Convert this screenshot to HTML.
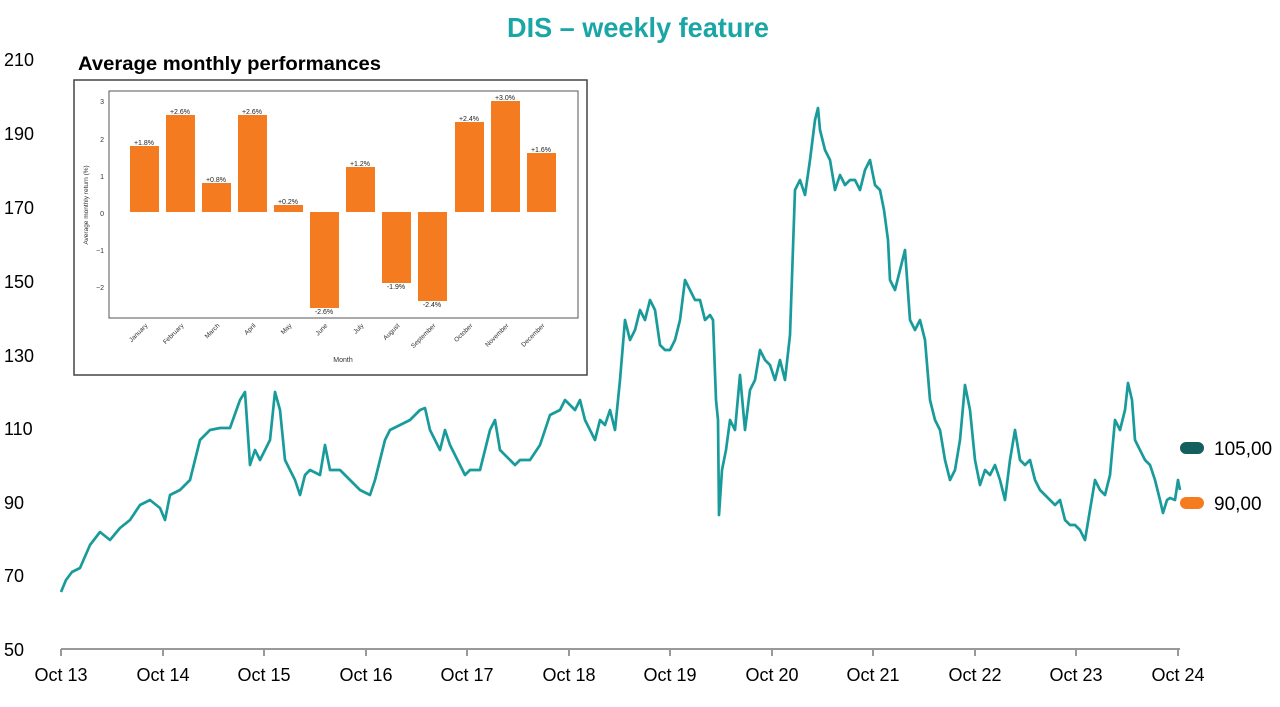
<!DOCTYPE html>
<html><head><meta charset="utf-8"><style>
body{margin:0;background:#fff;}
svg{display:block;font-family:"Liberation Sans",Arial,sans-serif;}
</style></head><body>
<svg width="1280" height="707" viewBox="0 0 1280 707">
<text x="638" y="37" text-anchor="middle" font-size="28" font-weight="bold" fill="#1aa6a6" textLength="262" lengthAdjust="spacingAndGlyphs">DIS – weekly feature</text>
<g font-size="18" fill="#000">
<text x="4" y="66">210</text><text x="4" y="140">190</text><text x="4" y="214">170</text><text x="4" y="288">150</text><text x="4" y="362">130</text><text x="4" y="435">110</text><text x="4" y="509">90</text><text x="4" y="582">70</text><text x="4" y="656">50</text>
</g>
<line x1="61" y1="649" x2="1180" y2="649" stroke="#999" stroke-width="2"/>
<g stroke="#999" stroke-width="2">
<line x1="61" y1="649" x2="61" y2="656"/><line x1="163" y1="649" x2="163" y2="656"/><line x1="264" y1="649" x2="264" y2="656"/><line x1="366" y1="649" x2="366" y2="656"/><line x1="467" y1="649" x2="467" y2="656"/><line x1="569" y1="649" x2="569" y2="656"/><line x1="670" y1="649" x2="670" y2="656"/><line x1="772" y1="649" x2="772" y2="656"/><line x1="873" y1="649" x2="873" y2="656"/><line x1="975" y1="649" x2="975" y2="656"/><line x1="1076" y1="649" x2="1076" y2="656"/><line x1="1178" y1="649" x2="1178" y2="656"/>
</g>
<g font-size="18" fill="#000" text-anchor="middle">
<text x="61" y="681">Oct 13</text><text x="163" y="681">Oct 14</text><text x="264" y="681">Oct 15</text><text x="366" y="681">Oct 16</text><text x="467" y="681">Oct 17</text><text x="569" y="681">Oct 18</text><text x="670" y="681">Oct 19</text><text x="772" y="681">Oct 20</text><text x="873" y="681">Oct 21</text><text x="975" y="681">Oct 22</text><text x="1076" y="681">Oct 23</text><text x="1178" y="681">Oct 24</text>
</g>
<polyline fill="none" stroke="#1a9b9b" stroke-width="2.7" stroke-linejoin="round" points="61,592 66,580 72,572 80,568 90,545 100,532 110,540 120,528 130,520 140,505 150,500 160,508 165,520 170,495 180,490 190,480 200,440 205,435 210,430 220,428 230,428 240,400 245,392 250,465 255,450 260,460 270,440 275,392 280,410 285,460 290,470 295,480 300,495 305,475 310,470 320,475 325,445 330,470 340,470 350,480 360,490 370,495 375,480 385,440 390,430 400,425 410,420 420,410 425,408 430,430 435,440 440,450 445,430 450,445 455,455 460,465 465,475 470,470 480,470 490,430 495,420 500,450 510,460 515,465 520,460 530,460 540,445 545,430 550,415 560,410 565,400 570,405 575,410 580,400 585,420 590,430 595,440 600,420 605,425 610,410 615,430 620,380 625,320 630,340 635,330 640,310 645,320 650,300 655,310 660,345 665,350 670,350 675,340 680,320 685,280 690,290 695,300 700,300 705,320 710,315 713,320 716,400 718,420 719,515 722,470 726,450 730,420 735,430 740,375 745,430 750,390 755,380 760,350 765,360 770,365 775,380 780,360 785,380 790,335 795,190 800,180 805,195 810,160 815,120 818,108 820,130 825,150 830,160 835,190 840,175 845,185 850,180 855,180 860,190 865,170 870,160 875,185 880,190 884,210 888,240 890,280 895,290 900,270 905,250 910,320 915,330 920,320 925,340 930,400 935,420 940,430 945,460 950,480 955,470 960,440 965,385 970,410 975,460 980,485 985,470 990,475 995,465 1000,480 1005,500 1010,460 1015,430 1020,460 1025,465 1030,460 1035,480 1040,490 1045,495 1050,500 1055,505 1060,500 1065,520 1070,525 1075,525 1080,530 1085,540 1090,510 1095,480 1100,490 1105,495 1110,475 1115,420 1120,430 1125,410 1128,383 1132,400 1135,440 1140,450 1145,460 1150,465 1155,480 1160,500 1163,513 1167,500 1170,498 1175,500 1178,480 1180,490"/>
<rect x="1180" y="442" width="24" height="12" rx="6" fill="#135e5e"/>
<text x="1214" y="455" font-size="19" fill="#000">105,00</text>
<rect x="1180" y="497" width="24" height="12" rx="6" fill="#f47b20"/>
<text x="1214" y="510" font-size="19" fill="#000">90,00</text>
<!-- inset -->
<text x="78" y="70" font-size="19" font-weight="bold" fill="#000" textLength="303" lengthAdjust="spacingAndGlyphs">Average monthly performances</text>
<rect x="74" y="80" width="513" height="295" fill="#fff" stroke="#444" stroke-width="1.5"/>
<rect x="109" y="91" width="469" height="227" fill="none" stroke="#555" stroke-width="1"/>
<g font-size="7" fill="#333" text-anchor="end">
<text x="104" y="104">3</text><text x="104" y="142">2</text><text x="104" y="179">1</text><text x="104" y="216">0</text><text x="104" y="253">−1</text><text x="104" y="290">−2</text>
</g>
<text transform="translate(88,205) rotate(-90)" font-size="6.5" fill="#333" text-anchor="middle">Average monthly return (%)</text>
<text x="343" y="362" font-size="7" fill="#333" text-anchor="middle">Month</text>
<g fill="#f47b20">
<rect x="130" y="146" width="29" height="66"/>
<rect x="166" y="115" width="29" height="97"/>
<rect x="202" y="183" width="29" height="29"/>
<rect x="238" y="115" width="29" height="97"/>
<rect x="274" y="205" width="29" height="7"/>
<rect x="310" y="212" width="29" height="96"/>
<rect x="346" y="167" width="29" height="45"/>
<rect x="382" y="212" width="29" height="71"/>
<rect x="418" y="212" width="29" height="89"/>
<rect x="455" y="122" width="29" height="90"/>
<rect x="491" y="101" width="29" height="111"/>
<rect x="527" y="153" width="29" height="59"/>
</g>
<g font-size="7" fill="#222" text-anchor="middle">
<text x="144" y="145">+1.8%</text><text x="180" y="114">+2.6%</text><text x="216" y="182">+0.8%</text><text x="252" y="114">+2.6%</text><text x="288" y="204">+0.2%</text><text x="324" y="314">-2.6%</text><text x="360" y="166">+1.2%</text><text x="396" y="289">-1.9%</text><text x="432" y="307">-2.4%</text><text x="469" y="121">+2.4%</text><text x="505" y="100">+3.0%</text><text x="541" y="152">+1.6%</text>
</g>
<g font-size="6.5" fill="#333" text-anchor="end">
<text transform="translate(148,326) rotate(-45)">January</text>
<text transform="translate(184,326) rotate(-45)">February</text>
<text transform="translate(220,326) rotate(-45)">March</text>
<text transform="translate(256,326) rotate(-45)">April</text>
<text transform="translate(292,326) rotate(-45)">May</text>
<text transform="translate(328,326) rotate(-45)">June</text>
<text transform="translate(364,326) rotate(-45)">July</text>
<text transform="translate(400,326) rotate(-45)">August</text>
<text transform="translate(436,326) rotate(-45)">September</text>
<text transform="translate(473,326) rotate(-45)">October</text>
<text transform="translate(509,326) rotate(-45)">November</text>
<text transform="translate(545,326) rotate(-45)">December</text>
</g>
</svg>
</body></html>
